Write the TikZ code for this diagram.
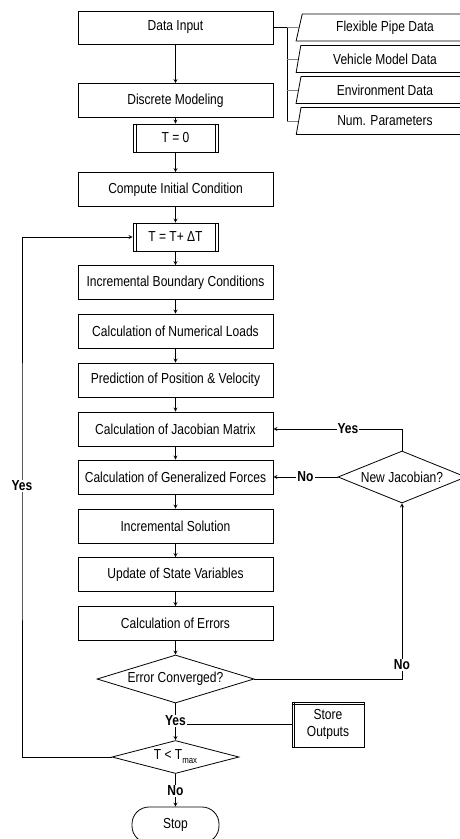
\documentclass[tikz,border=0pt]{standalone}
\usepackage{fontspec}
\setmainfont[FakeStretch=0.83]{Liberation Sans}
\usetikzlibrary{arrows}
\usetikzlibrary{shapes.geometric}

\begin{document}
\begin{tikzpicture}[x=1pt, y=-1pt, line width=0.8pt]
\useasboundingbox (0,0) rectangle (460,839);
\begin{scope}
	\tikzstyle{every node}=[font=\fontsize{14.5}{17.5}\selectfont, inner sep=0pt, align=center]
	\tikzstyle{proc}=[draw, rectangle, minimum width=195, minimum height=34]
	\tikzstyle{predef}=[draw, rectangle, minimum width=85, minimum height=28]
	\tikzstyle{iodata}=[draw, trapezium, trapezium left angle=75, trapezium right angle=105, trapezium stretches=true, minimum width=178, minimum height=27]
	\tikzstyle{decide}=[draw, diamond]
	\tikzstyle{lbl}=[fill=white, font=\fontsize{14.5}{17.5}\selectfont\bfseries, inner sep=1pt]
	
	\node[proc, minimum height=33] (datain) at (175.5,27.5) {Data Input};
	\node[proc] (discrete) at (175.5,100.5) {Discrete Modeling};
	\node[predef] (tzero) at (175.5,138) {T = 0};
	\node[proc] (initcond) at (175.5,189.5) {Compute Initial Condition};
	\node[predef] (tstep) at (175.5,237) {T = T+ ΔT};
	\node[proc] (boundary) at (175.5,282.5) {Incremental Boundary Conditions};
	\node[proc] (loads) at (175.5,331) {Calculation of Numerical Loads};
	\node[proc] (predict) at (175.5,380) {Prediction of Position \& Velocity};
	\node[proc] (jacobian) at (175.5,429) {Calculation of Jacobian Matrix};
	\node[proc] (forces) at (175.5,477) {Calculation of Generalized Forces};
	\node[proc] (incsol) at (175.5,526) {Incremental Solution};
	\node[proc] (update) at (175.5,574.5) {Update of State Variables};
	\node[proc] (errors) at (175.5,623.5) {Calculation of Errors};
	\node[decide, minimum width=157, minimum height=48, shape aspect=3.3] (conv) at (175.5,679) {Error Converged?};
	\node[decide, minimum width=127, minimum height=33, shape aspect=3.8] (tmax) at (175.5,757) {T < T\raisebox{-4pt}{\fontsize{9.5}{10}\selectfont max}};
	\node[draw, rounded corners=17pt, minimum width=87, minimum height=36] (stop) at (175.5,825) {Stop};
	\node[decide, minimum width=128, minimum height=52, shape aspect=2.5] (newjac) at (402,477) {New Jacobian?};
	\node[draw, minimum width=72, minimum height=45] (store) at (328,724.5) {Store\\Outputs};
	
	\node[iodata] (pipe) at (385,27.5) {Flexible Pipe Data};
	\node[iodata] (vehicle) at (385,59) {Vehicle Model Data};
	\node[iodata] (environ) at (385,90) {Environment Data};
	\node[iodata] (numpar) at (385,121) {Num. Parameters};
	
	% double sides
	\foreach \n in {tzero,tstep} {
		\draw ([xshift=3.5]\n.north west) -- ([xshift=3.5]\n.south west);
		\draw ([xshift=-3.5]\n.north east) -- ([xshift=-3.5]\n.south east);
	}
	\draw ([yshift=-3]store.north west) -- ([yshift=-3]store.north east);
	\draw ([xshift=3]store.north west) -- ([xshift=3]store.south west);
	
	% input data bus
	\coordinate (bus) at (287,27.5);
	\draw [line width=1.2pt] (datain.east) -- (bus);
	\draw (bus) -- (bus |- numpar.west);
	\foreach \n in {pipe,vehicle,environ,numpar}
		\draw [gray] (bus |- \n.west) -- (\n.west);
	
	% main column
	\foreach \a/\b in {datain/discrete, discrete/tzero, tzero/initcond, initcond/tstep, tstep/boundary, boundary/loads, loads/predict, predict/jacobian, jacobian/forces, forces/incsol, incsol/update, update/errors, errors/conv}
		\draw [-stealth] (\a) -- (\b);
	
	\node[lbl] (yesconv) at (175.5,721) {Yes};
	\draw (conv) -- (yesconv);
	\draw [-stealth] (yesconv) -- (tmax);
	\draw (store.west) -- (store.west -| yesconv.east);
	
	\node[lbl] (notmax) at (175.5,791) {No};
	\draw (tmax) -- (notmax);
	\draw [-stealth] (notmax) -- (stop);
	
	\coordinate (loopx) at (22,486);
	\draw [-stealth] (tmax.west) -| (loopx) node[lbl] (yesloop) {Yes} |- (tstep.west);
	
	\draw [-stealth] (conv.east) -| node[lbl, pos=0.54] (noconv) {No} (newjac.south);
	\draw [-stealth] (newjac.north) |- node[lbl, pos=0.71] (yesjac) {Yes} (jacobian.east);
	\draw [-stealth] (newjac.west) -- node[lbl] (nojac) {No} (forces.east);
\end{scope}
\end{tikzpicture}
\end{document}
